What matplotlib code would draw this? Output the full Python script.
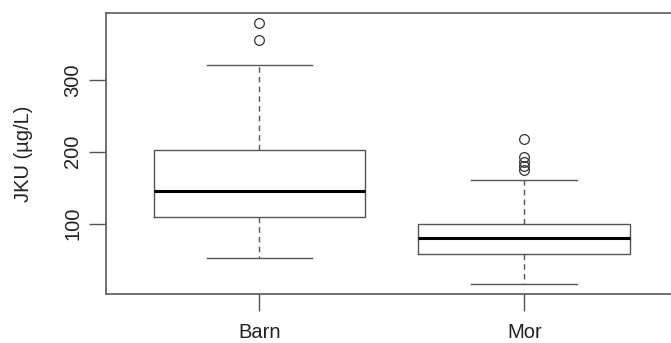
import matplotlib.pyplot as plt

plt.rcParams['font.family'] = ['Liberation Sans', 'DejaVu Sans']

# values (JKU, ug/L)
groups = ['Barn', 'Mor']
whislo = [52, 16]
q1 = [109, 58]
med = [146, 80]
q3 = [202, 100]
whishi = [321, 160]
fliers = [
    [356, 379],
    [175, 180, 186, 193, 217],
]

stats = []
for i, name in enumerate(groups):
    stats.append({
        'label': name,
        'whislo': whislo[i], 'q1': q1[i], 'med': med[i],
        'q3': q3[i], 'whishi': whishi[i], 'fliers': fliers[i],
    })

line_col = '#555555'

fig = plt.figure(figsize=(6.71, 3.43), dpi=100)
ax = fig.add_axes([106 / 671, 49 / 343, 1 - 106 / 671 + 0.01, 281 / 343])

ax.bxp(stats, positions=[1, 2], widths=0.8, showfliers=True,
       boxprops=dict(color=line_col, linewidth=1.0),
       whiskerprops=dict(color=line_col, linewidth=1.0, linestyle=(0, (4, 3))),
       capprops=dict(color=line_col, linewidth=1.0),
       medianprops=dict(color='black', linewidth=2.2),
       flierprops=dict(marker='o', markersize=7, markerfacecolor='none',
                       markeredgecolor='#333333', markeredgewidth=0.9),
       capwidths=0.4)

ax.set_xlim(1 - 153 / 264, 2 + 153 / 264)
ax.set_ylim(2, 393)
ax.set_yticks([100, 200, 300])
ax.set_yticklabels(['100', '200', '300'], rotation=90, va='center')
ax.set_xticks([1, 2])
ax.set_xticklabels(groups)
ax.tick_params(axis='both', length=12, width=1.0, color=line_col,
               labelsize=14.5, colors='#222222')
ax.tick_params(axis='y', pad=5)
ax.tick_params(axis='x', pad=9)
for s in ax.spines.values():
    s.set_color('#666666')
    s.set_linewidth(1.3)
ax.spines['right'].set_visible(False)

ax.set_ylabel('JKU (µg/L)', fontsize=14.5, color='#222222', labelpad=22)

fig.savefig('out.png', dpi=100)
